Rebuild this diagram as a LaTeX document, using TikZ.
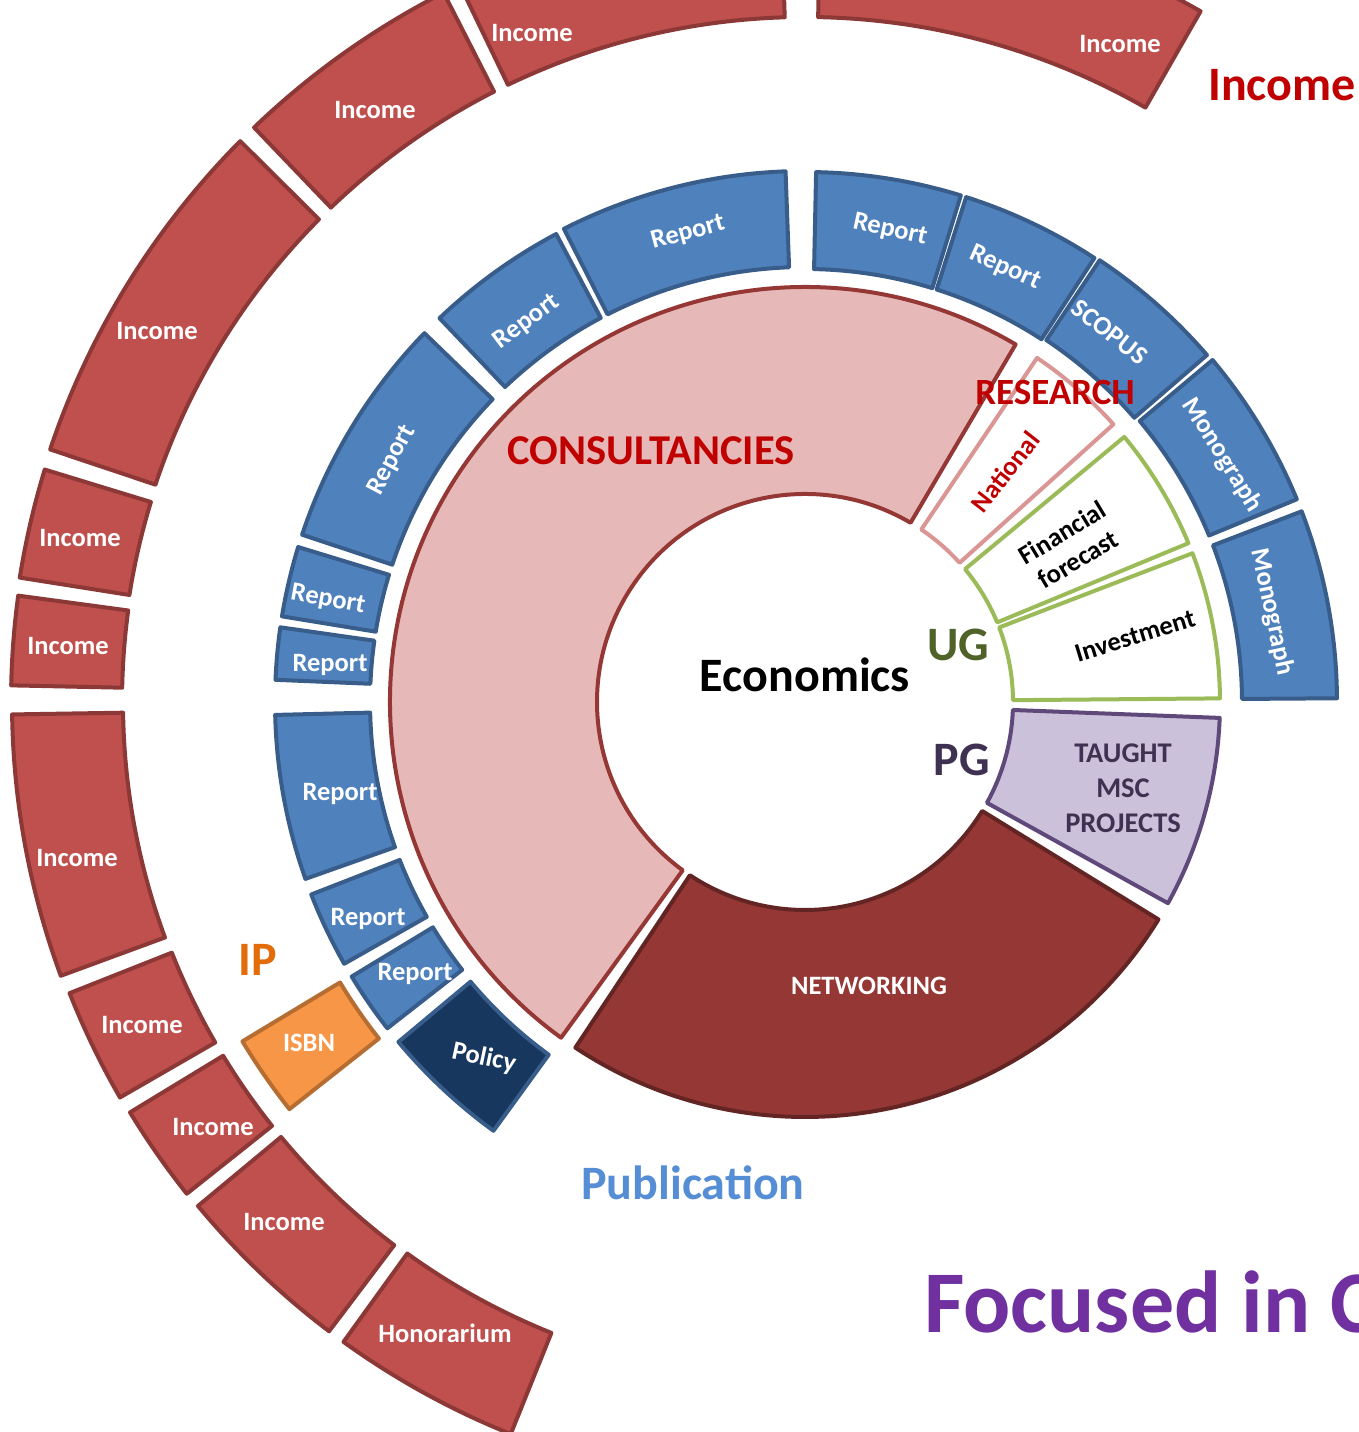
\documentclass[tikz,border=0pt]{standalone}
\usepackage{fontspec}
\setmainfont{Carlito}
\definecolor{incfill}{HTML}{C0504D}
\definecolor{incline}{HTML}{8C3836}
\definecolor{repfill}{HTML}{4F81BD}
\definecolor{repline}{HTML}{385D8A}
\definecolor{polfill}{HTML}{17375E}
\definecolor{isbnfill}{HTML}{F79646}
\definecolor{isbnline}{HTML}{B66D31}
\definecolor{pinkfill}{HTML}{E6B9B8}
\definecolor{darkred}{HTML}{953735}
\definecolor{darkerred}{HTML}{632523}
\definecolor{pgfillc}{HTML}{CCC1DA}
\definecolor{pgline}{HTML}{5F497A}
\definecolor{greenline}{HTML}{9BBB59}
\definecolor{natline}{HTML}{D99694}
\definecolor{redtext}{HTML}{C00000}
\definecolor{ugtext}{HTML}{4F6228}
\definecolor{pgtext}{HTML}{3F3151}
\definecolor{iptext}{HTML}{E36C09}
\definecolor{pubtext}{HTML}{558ED5}
\definecolor{focustext}{HTML}{7030A0}
\newcommand{\sector}[5]{%
  \path[#1] ([shift={(#2:#4pt)}]C) arc[start angle=#2, end angle=#3, radius=#4pt]
    -- ([shift={(#3:#5pt)}]C) arc[start angle=#3, end angle=#2, radius=#5pt] -- cycle;}
\begin{document}
\begin{tikzpicture}[x=1pt,y=1pt,
  seg/.style={line width=4pt, line join=round},
  incseg/.style={seg, fill=incfill, draw=incline},
  repseg/.style={seg, fill=repfill, draw=repline},
  polseg/.style={seg, fill=polfill, draw=repline},
  isbnseg/.style={seg, fill=isbnfill, draw=isbnline},
  pinkseg/.style={seg, fill=pinkfill, draw=darkred},
  netseg/.style={seg, fill=darkred, draw=darkerred},
  pgseg/.style={seg, fill=pgfillc, draw=pgline},
  greenseg/.style={seg, fill=white, draw=greenline},
  natseg/.style={seg, fill=white, draw=natline},
  lbl/.style={font=\bfseries\fontsize{26.5}{31}\selectfont, text=white, inner sep=0pt},
  dlbl/.style={font=\bfseries\fontsize{26.5}{31}\selectfont, text=black, inner sep=0pt, align=center},
  big/.style={font=\bfseries\fontsize{48}{56}\selectfont, inner sep=0pt}]
\useasboundingbox (0,0) rectangle (1358,1432);
\clip (0,0) rectangle (1358,1432);
\fill[white] (0,0) rectangle (1358,1432);
\coordinate (C) at (805,730);
% ring 1
\sector{pinkseg}{59.5}{234}{208}{415}
\sector{netseg}{236.4}{328.4}{208}{415}
\sector{pgseg}{331}{357.8}{208}{415}
\sector{greenseg}{0.5}{21}{208}{415}
\sector{greenseg}{22.5}{39.7}{208}{415}
\sector{natseg}{42}{56}{208}{415}
% ring 2
\sector{repseg}{0.4}{21}{437}{532}
\sector{repseg}{22.4}{40}{437}{532}
\sector{repseg}{40.8}{56.3}{435}{531}
\sector{repseg}{56.9}{72.3}{433}{530}
\sector{repseg}{72.9}{88.8}{433}{530}
\sector{repseg}{92.1}{117}{435}{531}
\sector{repseg}{118}{133.6}{435}{530}
\sector{repseg}{135.9}{161.6}{435}{530}
\sector{repseg}{163}{170.7}{435}{530}
\sector{repseg}{171.9}{177.6}{435}{530}
\sector{repseg}{181.4}{199.5}{435}{530}
\sector{repseg}{201.3}{209.6}{435}{530}
\sector{repseg}{211.2}{218}{435}{530}
\sector{polseg}{219.9}{234}{436}{530}
% IP ring
\sector{isbnseg}{211.1}{218.3}{543}{657}
% outer ring
\sector{incseg}{60.2}{88.9}{685}{796}
\sector{incseg}{91.7}{115.7}{685}{796}
\sector{incseg}{117}{133.8}{685}{796}
\sector{incseg}{135.2}{161.5}{685}{796}
\sector{incseg}{163}{171}{684}{795}
\sector{incseg}{172.3}{178.8}{683}{794}
\sector{incseg}{180.9}{200.2}{682}{793}
\sector{incseg}{201.6}{210}{681}{791}
\sector{incseg}{211.3}{218.5}{681}{790}
\sector{incseg}{219.7}{232.9}{681}{789}
\sector{incseg}{234.2}{248.1}{680}{789}
% ring 2 labels
\node[lbl, rotate=-12] (rep1) at (890,1202) {Report};
\node[lbl, rotate=-24] (rep2) at (1005,1164) {Report};
\node[lbl, rotate=-38] (scopus) at (1110,1100) {SCOPUS};
\node[lbl, rotate=-58] (mono1) at (1222,977) {Monograph};
\node[lbl, rotate=-78] (mono2) at (1272,820) {Monograph};
\node[lbl, rotate=15] (rep0) at (688,1199) {Report};
\node[lbl, rotate=37] (rep3) at (527,1110) {Report};
\node[lbl, rotate=62] (rep4) at (392,972) {Report};
\node[lbl, rotate=-10] (rep5) at (328,832) {Report};
\node[lbl] (rep6) at (330,767) {Report};
\node[lbl] (rep7) at (340,638) {Report};
\node[lbl] (rep8) at (368,513) {Report};
\node[lbl] (rep9) at (415,458) {Report};
\node[lbl, rotate=-12] (policy) at (484,374) {Policy};
\node[lbl] (isbn) at (309,389) {ISBN};
% outer labels
\node[lbl] (inc1) at (1120,1388) {Income};
\node[lbl] (inc2) at (532,1399) {Income};
\node[lbl] (inc3) at (375,1322) {Income};
\node[lbl] (inc4) at (157,1101) {Income};
\node[lbl] (inc5) at (80,894) {Income};
\node[lbl] (inc6) at (68,786) {Income};
\node[lbl] (inc7) at (77,574) {Income};
\node[lbl] (inc8) at (142,407) {Income};
\node[lbl] (inc9) at (213,305) {Income};
\node[lbl] (inc10) at (284,210) {Income};
\node[lbl] (honor) at (445,99) {Honorarium};
% ring 1 labels
\node[lbl] (netw) at (869,446) {NETWORKING};
\node[dlbl, text=redtext, rotate=52] (natl) at (1005,960) {National};
\node[dlbl, rotate=31] (finf) at (1070,886) {Financial\\forecast};
\node[dlbl, rotate=17] (invest) at (1135,796) {Investment};
\node[inner sep=0pt, align=center, text=pgtext, font=\bfseries\fontsize{28.5}{35}\selectfont] (taught) at (1123,644) {TAUGHT\\MSC\\PROJECTS};
% headings
\node[big, font=\bfseries\fontsize{42.5}{50}\selectfont, text=redtext] (consult) at (651,981) {CONSULTANCIES};
\node[big, font=\bfseries\fontsize{37}{44}\selectfont, text=redtext] (research) at (1055,1039) {RESEARCH};
\node[big, text=ugtext] (ug) at (958,787) {UG};
\node[big, text=pgtext] (pg) at (962,672) {PG};
\node[big, text=black] (econ) at (805,757) {Economics};
\node[big, text=iptext] (ip) at (258,472) {IP};
\node[big, text=pubtext] (pub) at (693,249) {Publication};
\node[big, text=redtext] (inclegend) at (1282,1347) {Income};
\node[inner sep=0pt, anchor=base west, text=focustext, font=\bfseries\fontsize{88}{100}\selectfont] (focus) at (924,99) {Focused in C};
\end{tikzpicture}
\end{document}
